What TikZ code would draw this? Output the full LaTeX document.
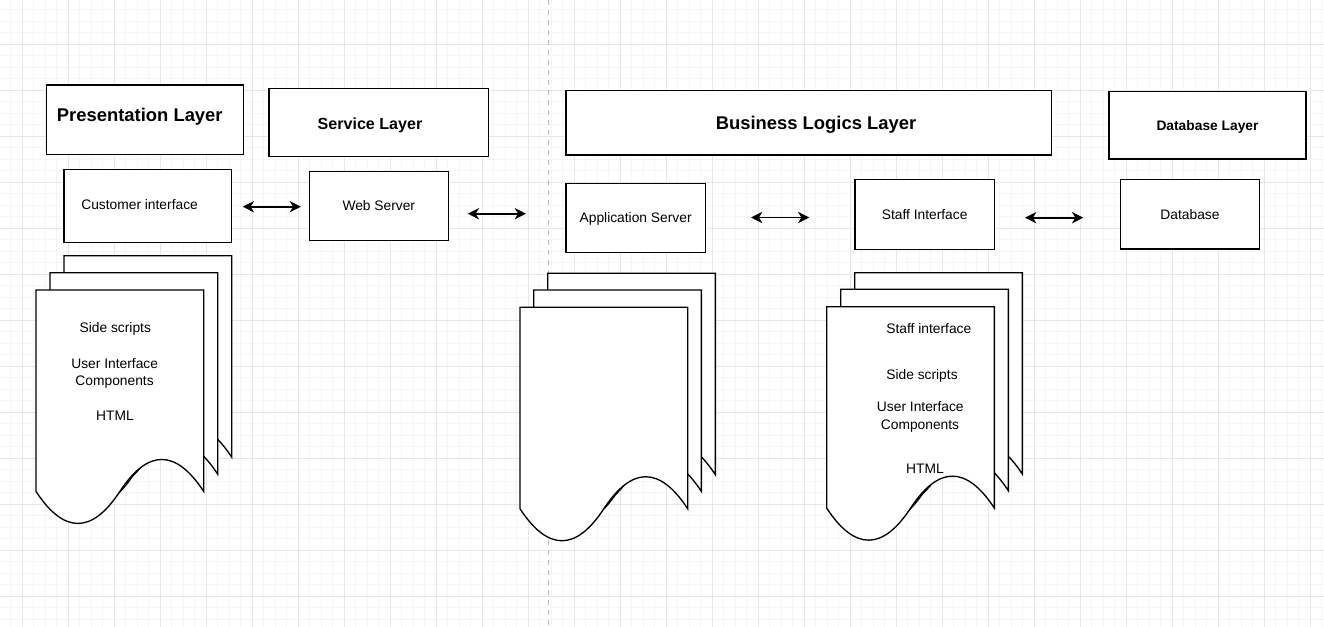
\documentclass[tikz,border=0pt]{standalone}
\usepackage{fontspec}
\setmainfont{Liberation Sans}
\usetikzlibrary{arrows.meta,fit}
\definecolor{gridmajor}{HTML}{E6E6E6}
\definecolor{gridminor}{HTML}{F5F5F5}
\definecolor{sepgrey}{HTML}{B8B8B8}
\tikzset{
  docline/.style={draw=black, line width=1pt, fill=white, line join=miter},
  docpage/.pic={
    \path[docline] (0,0) -- (167.7,0) -- (167.7,201.45)
      .. controls (139.75,158.79) and (111.8,158.79) .. (83.85,201.45)
      .. controls (55.9,244.11) and (27.95,244.11) .. (0,201.45) -- cycle;
  },
  box/.style={draw=black, line width=1pt, fill=white, inner sep=0pt,
    font=\fontsize{10.35pt}{12.4pt}\selectfont, text height=7.41pt, text depth=0pt},
  ttlbig/.style={inner sep=0pt, font=\fontsize{13.8pt}{16pt}\selectfont\bfseries, text height=9.88pt, text depth=0pt},
  ttlmid/.style={inner sep=0pt, font=\fontsize{12.075pt}{14pt}\selectfont\bfseries, text height=8.65pt, text depth=0pt},
  ttlsmall/.style={inner sep=0pt, font=\fontsize{10.35pt}{12.4pt}\selectfont\bfseries, text height=7.41pt, text depth=0pt},
  regtxt/.style={inner sep=0pt, font=\fontsize{10.35pt}{12.4pt}\selectfont, text height=7.41pt, text depth=0pt},
  doctxt/.style={inner sep=0pt, anchor=base, font=\fontsize{10.35pt}{12.4pt}\selectfont},
  biarrow/.style={line width=1.3pt, {Stealth[length=8.5pt,width=8.5pt,inset=2.6pt]}-{Stealth[length=8.5pt,width=8.5pt,inset=2.6pt]}}
}
\begin{document}
\begin{tikzpicture}[x=0.75pt,y=-0.75pt]
\useasboundingbox (0,0) rectangle (1324,627);
\fill[white] (0,0) rectangle (1324,627);
% grid
\foreach \i in {0,...,114} \draw[gridminor, line width=0.75pt] ({10.8+\i*11.5},0) -- ({10.8+\i*11.5},627);
\foreach \j in {0,...,53} \draw[gridminor, line width=0.75pt] (0,{9.8+\j*11.5}) -- (1324,{9.8+\j*11.5});
\foreach \i in {0,...,28} \draw[gridmajor, line width=0.75pt] ({22.3+\i*46},0) -- ({22.3+\i*46},627);
\foreach \j in {0,...,12} \draw[gridmajor, line width=0.75pt] (0,{44.3+\j*46}) -- (1324,{44.3+\j*46});
% separator
\coordinate (septop) at (548.3,0);
\coordinate (sepbot) at (548.3,627);
\draw[sepgrey, line width=1.1pt, dash pattern=on 3.4pt off 4.1pt] (septop) -- (sepbot);

% layer titles
\node[box, fit={(46.7,85)(243.3,154.3)}, label={[ttlbig, name=presT, xshift=-3.9pt, yshift=3.5pt]center:Presentation Layer}] (pres) {};
\node[box, fit={(269,88.3)(488.3,156.7)}, label={[ttlmid, name=servT, xshift=-6.5pt, yshift=-0.6pt]center:Service Layer}] (serv) {};
\node[box, fit={(566,90.7)(1051.7,155)}, label={[ttlbig, name=busT, xshift=5.4pt]center:Business Logics Layer}] (bus) {};
\node[box, fit={(1109,91.7)(1306,159)}, label={[ttlsmall, name=dbT]center:Database Layer}] (dbl) {};

% component boxes
\node[box, fit={(64,169.3)(231.7,242.3)}, label={[regtxt, name=custT, xshift=-6.2pt, yshift=1.2pt]center:Customer interface}] (cust) {};
\node[box, fit={(309.3,171.7)(448.3,240.3)}, label={[regtxt, name=webT]center:Web Server}] (web) {};
\node[box, fit={(566,183.3)(705.3,252.3)}, label={[regtxt, name=appT]center:Application Server}] (app) {};
\node[box, fit={(855,179.3)(994.3,249.3)}, label={[regtxt, name=staffT]center:Staff Interface}] (staff) {};
\node[box, fit={(1120.7,179.3)(1259.3,249)}, label={[regtxt, name=dbT2]center:Database}] (db) {};

% arrows
\coordinate (a1s) at (242.7,206.7); \coordinate (a1e) at (301,206.7);
\coordinate (a2s) at (467.7,213.7); \coordinate (a2e) at (526,213.7);
\coordinate (a3s) at (751,217.5);   \coordinate (a3e) at (809.3,217.5);
\coordinate (a4s) at (1025,217.7);  \coordinate (a4e) at (1083.3,217.7);
\draw[biarrow] (a1s) -- (a1e);
\draw[biarrow] (a2s) -- (a2e);
\draw[biarrow] (a3s) -- (a3e);
\draw[biarrow] (a4s) -- (a4e);

% document stacks
\pic at (64,255.7) {docpage};
\pic at (50,272.7) {docpage};
\pic at (36,290) {docpage};
\pic at (547.7,273.3) {docpage};
\pic at (533.7,290) {docpage};
\pic at (520,307.3) {docpage};
\pic at (854.7,272.7) {docpage};
\pic at (840.7,289.3) {docpage};
\pic at (826.7,306.7) {docpage};

% texts in left stack
\node[doctxt] (l1) at (115.3,332.6) {Side scripts};
\node[doctxt] (l2) at (114.7,368.2) {User Interface};
\node[doctxt] (l3) at (114.6,385) {Components};
\node[doctxt] (l4) at (115,420) {HTML};
% texts in staff stack
\node[doctxt] (s1) at (928.8,333.3) {Staff interface};
\node[doctxt] (s2) at (922,379) {Side scripts};
\node[doctxt] (s3) at (920.3,411.7) {User Interface};
\node[doctxt] (s4) at (920,429) {Components};
\node[doctxt] (s5) at (925,473.3) {HTML};
\end{tikzpicture}
\end{document}
